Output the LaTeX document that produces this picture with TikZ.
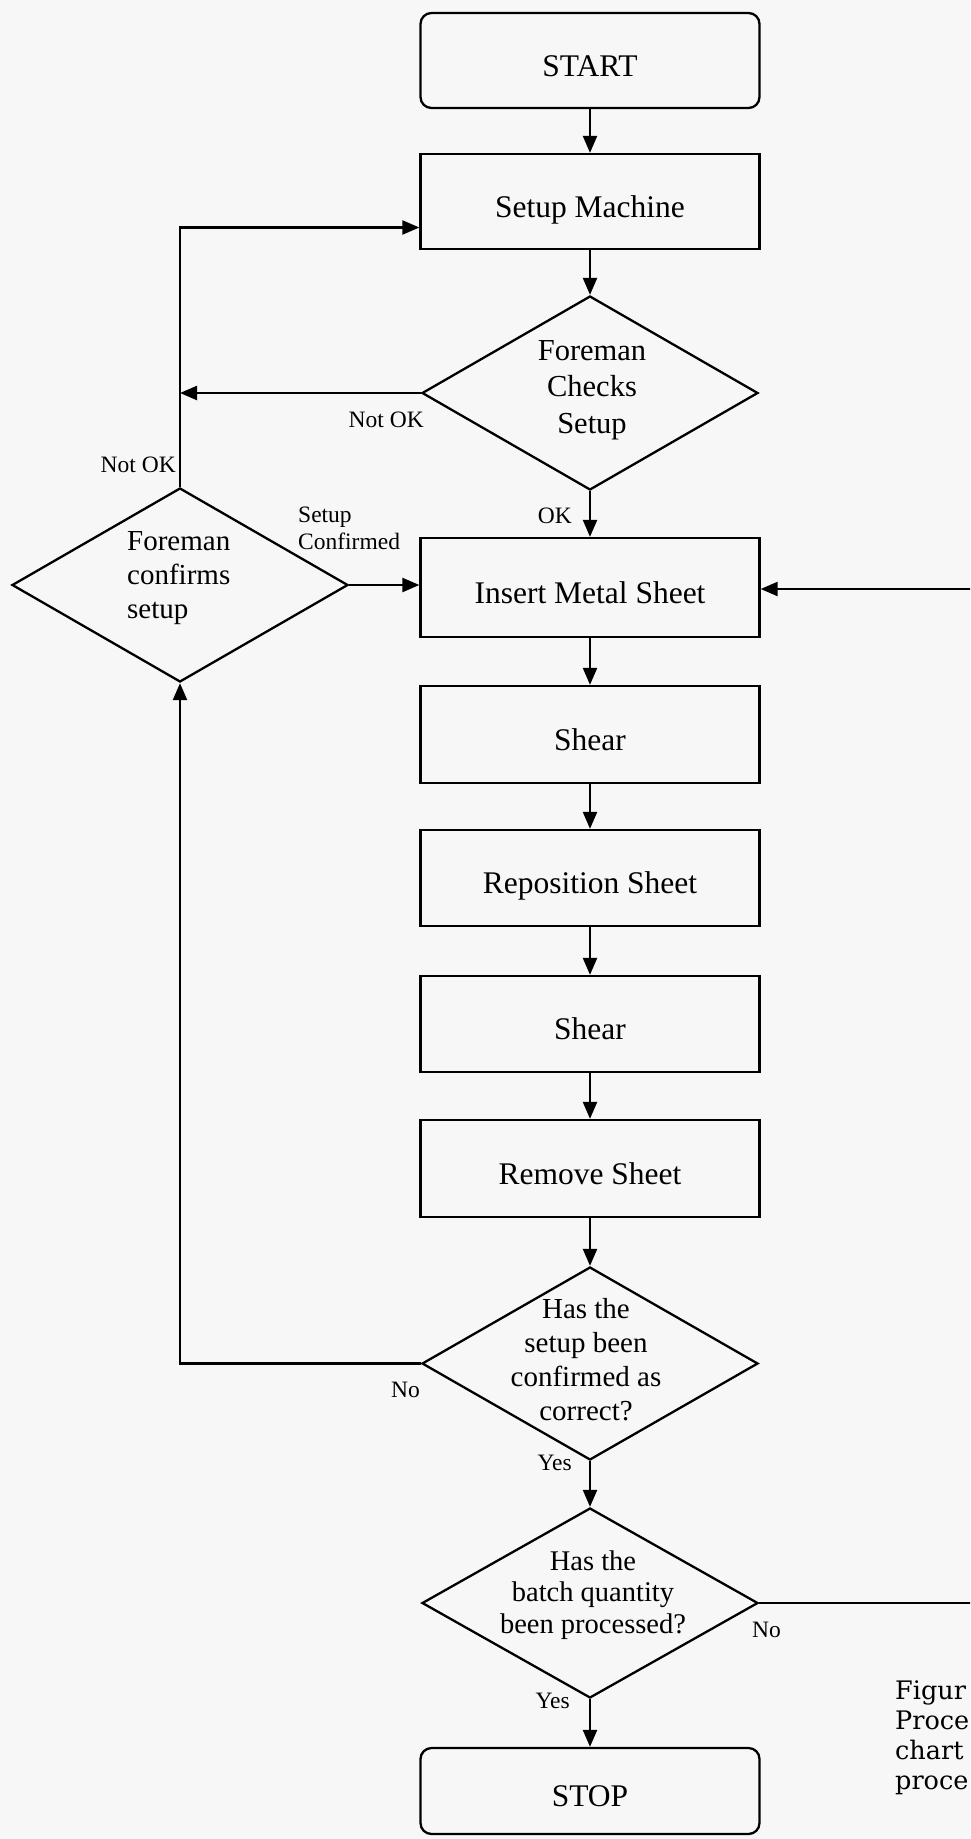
\documentclass[tikz,border=0pt]{standalone}
\usepackage{fontspec}
\setmainfont{Liberation Serif}
\newfontfamily\captionserif{DejaVu Serif}
\usetikzlibrary{arrows.meta,shapes.geometric,calc}

\begin{document}
\begin{tikzpicture}[x=1pt,y=-1pt,
  line/.style={line width=2.3pt, draw=black},
  flow/.style={line, -{Triangle[length=17pt,width=14pt]}},
  proc/.style={draw, line width=2.3pt, minimum width=339pt, minimum height=96pt,
    inner sep=0pt, font=\fontsize{31.5}{36}\selectfont, text height=31pt, text depth=0pt},
  term/.style={proc, rounded corners=11pt},
  decision/.style={draw, diamond, line width=2.3pt, minimum width=336pt,
    minimum height=194pt, inner sep=0pt},
  dtext/.style={inner sep=0pt, align=center},
  lbl/.style={inner sep=0pt, font=\fontsize{23.5}{27}\selectfont},
]
% paper and page frame
\fill[black!3] (0,0) rectangle (970,1839);
\useasboundingbox (0,0) rectangle (970,1839);
\clip (0,0) rectangle (970,1839);

% main column
\node[term, minimum height=95pt] (start) at (590,60.5) {START};
\node[proc, minimum height=95pt] (setup) at (590,201.5) {Setup Machine};
\node[decision] (check) at (590,393) {};
\node[dtext, font=\fontsize{30.5}{36.5}\selectfont] (checktxt) at (592,389.2)
  {\strut Foreman\\Checks\\Setup\strut};
\node[proc, minimum height=99pt] (insert) at (590,587.5) {Insert Metal Sheet};
\node[proc, minimum height=97pt] (shear1) at (590,734.5) {Shear};
\node[proc] (repos) at (590,878) {Reposition Sheet};
\node[proc] (shear2) at (590,1024) {Shear};
\node[proc, minimum height=97pt] (remove) at (590,1168.5) {Remove Sheet};
\node[decision, minimum height=193pt] (conf) at (590,1363.5) {};
\node[dtext, font=\fontsize{29}{34}\selectfont] (conftxt) at (586,1362.2)
  {\strut Has the\\setup been\\confirmed as\\correct?\strut};
\node[decision, minimum height=190pt] (batch) at (590,1603) {};
\node[dtext, font=\fontsize{28.5}{31.5}\selectfont] (batchtxt) at (593,1595.2)
  {\strut Has the\\batch quantity\\been processed?\strut};
\node[term, minimum height=86pt] (stop) at (590,1791) {STOP};

% side decision
\node[decision] (confirm) at (180,585) {};
\node[dtext, align=left, anchor=west, font=\fontsize{29}{34}\selectfont] (confirmtxt)
  at (127,577.2) {\strut Foreman\\confirms\\setup\strut};

% connectors
\draw[flow] (start) -- (setup);
\draw[flow] (setup) -- (check);
\draw[flow] (check.west) -- (check.west -| confirm.north);
\draw[flow] (confirm.north) |- ($(setup.west)+(0,26)$);
\draw[flow] (confirm.east) -- (confirm.east -| insert.west);
\draw[flow] (check) -- (insert);
\coordinate (rin) at (975,589);
\draw[flow] (rin) -- (rin -| insert.east);
\draw[flow] (insert) -- (shear1);
\draw[flow] (shear1) -- (repos);
\draw[flow] (repos) -- (shear2);
\draw[flow] (shear2) -- (remove);
\draw[flow] (remove) -- (conf);
\draw[flow] (conf.west) -| (confirm.south);
\draw[flow] (conf) -- (batch);
\draw[line] (batch.east) -- (batch.east -| rin);
\draw[flow] (batch) -- (stop);

% connector labels
\node[lbl, anchor=base east] (notok1) at (424,427) {Not OK};
\node[lbl, anchor=base east] (notok2) at (176,472) {Not OK};
\node[lbl, align=left, anchor=west] (setconf) at (298,531) {\strut Setup\\Confirmed\strut};
\node[lbl, anchor=base east] (ok) at (572,523) {OK};
\node[lbl, anchor=base east] (no1) at (420,1397) {No};
\node[lbl, anchor=base east] (yes1) at (572,1470) {Yes};
\node[lbl, anchor=base west] (no2) at (752,1637) {No};
\node[lbl, anchor=base east] (yes2) at (570,1708) {Yes};

% caption at the right edge
\node[inner sep=0pt, align=left, anchor=west,
  font=\captionserif\fontsize{25.5}{30}\selectfont] (caption) at (895,1738)
  {\strut Figur\\Proce\\chart\\proce\strut};
\end{tikzpicture}
\end{document}
